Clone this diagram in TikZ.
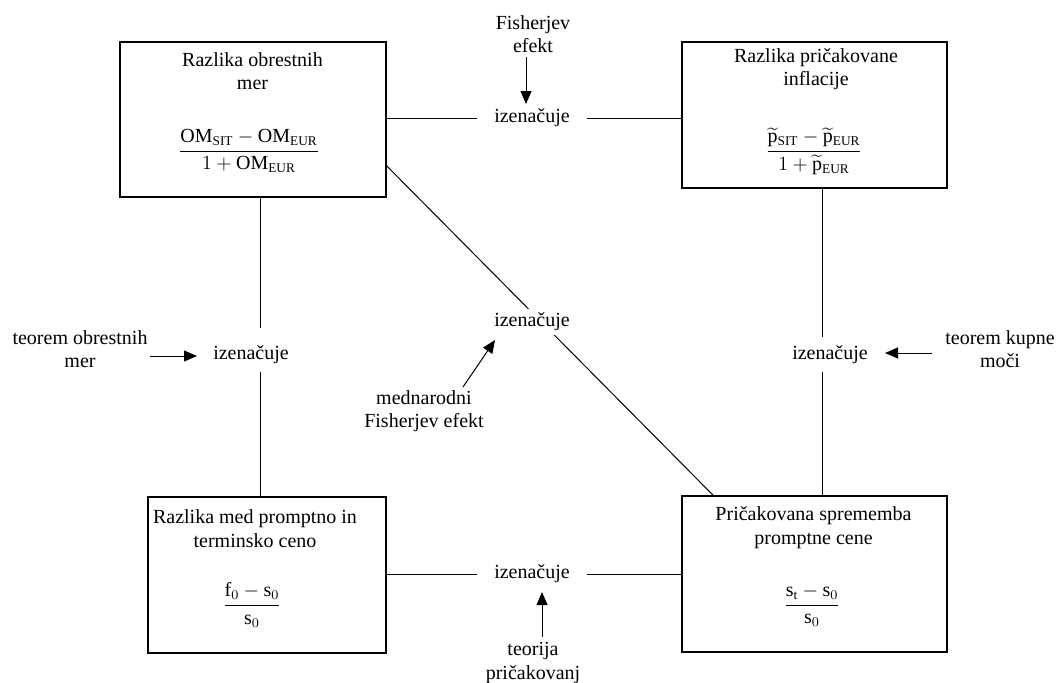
\documentclass[tikz,border=0pt]{standalone}
\usepackage{amsmath}
\usepackage{fontspec}
\setmainfont{Liberation Serif}
\usetikzlibrary{arrows.meta}
\begin{document}
\begin{tikzpicture}[x=0.6pt,y=-0.6pt,
  font=\fontsize{12}{14}\selectfont,
  box/.style={draw, line width=1pt, inner sep=0pt},
  conn/.style={line width=0.6pt},
  arr/.style={line width=0.6pt,-{Triangle[length=7.8pt,width=6.6pt]}},
  eqh/.style={inner xsep=10.2pt, inner ysep=2pt},
  txt/.style={align=center, inner sep=0pt}]
\useasboundingbox (0,0) rectangle (1058,682);

% boxes
\node[box, minimum width=159.6pt, minimum height=93pt] (TL) at (253,119.5) {};
\node[box, minimum width=159pt, minimum height=87.6pt] (TR) at (814.5,115) {};
\node[box, minimum width=142.8pt, minimum height=93.6pt] (BL) at (267,575) {};
\node[box, minimum width=159pt, minimum height=93.6pt] (BR) at (814.5,574) {};

% box titles
\node[txt] (tTL) at (252.5,71) {Razlika obrestnih\\mer};
\node[txt] (tTR) at (816,69) {Razlika pričakovane\\inflacije};
\node[txt] (tBL) at (255,528.5) {Razlika med promptno in\\terminsko ceno};
\node[txt] (tBR) at (813.5,527.5) {Pričakovana sprememba\\promptne cene};

% formulas
\node[txt] (fTL) at (249,151) {$\dfrac{\mathrm{OM}_{\mathrm{SIT}}-\mathrm{OM}_{\mathrm{EUR}}}{1+\mathrm{OM}_{\mathrm{EUR}}}$};
\node[txt] (fTR) at (814,151) {$\dfrac{\widetilde{\mathrm{p}}_{\mathrm{SIT}}-\widetilde{\mathrm{p}}_{\mathrm{EUR}}}{1+\widetilde{\mathrm{p}}_{\mathrm{EUR}}}$};
\node[txt] (fBL) at (252,605) {$\dfrac{\mathrm{f}_0-\mathrm{s}_0}{\mathrm{s}_0}$};
\node[txt] (fBR) at (812,606) {$\dfrac{\mathrm{s}_{\mathrm{t}}-\mathrm{s}_0}{\mathrm{s}_0}$};

% "izenacuje" labels
\node[eqh] (lT) at (532,118) {izenačuje};
\node[eqh] (lB) at (532,574) {izenačuje};
\node (lL) at (251,355) {izenačuje};
\node (lR) at (830,355) {izenačuje};

% horizontal connectors
\draw[conn] (TL.east |- lT) -- (lT.west);
\draw[conn] (lT.east) -- (TR.west |- lT);
\draw[conn] (BL.east |- lB) -- (lB.west);
\draw[conn] (lB.east) -- (BR.west |- lB);

% vertical connectors
\coordinate (gL1) at (260,328);
\coordinate (gL2) at (260,372);
\coordinate (gR1) at (822,337);
\coordinate (gR2) at (822,372);
\draw[conn] (TL.south -| gL1) -- (gL1);
\draw[conn] (gL2) -- (BL.north -| gL2);
\draw[conn] (TR.south -| gR1) -- (gR1);
\draw[conn] (gR2) -- (BR.north -| gR2);

% diagonal connector
\draw[conn] ([yshift=-27.9pt]TL.east) -- ([xshift=-60.9pt]BR.north);
\node[fill=white, inner sep=2.5pt] (lM) at (532,322) {izenačuje};

% side texts
\node[txt] (fish) at (533,34) {Fisherjev\\efekt};
\node[txt] (tob) at (80,349) {teorem obrestnih\\mer};
\node[txt] (tkm) at (1000,349) {teorem kupne\\moči};
\node[txt] (mfe) at (424,411) {mednarodni\\Fisherjev efekt};
\node[txt] (tpr) at (533,663) {teorija\\pričakovanj};

% arrows
\coordinate (aF1) at (526,57);   \coordinate (aF2) at (526,104);
\coordinate (aO1) at (150,356);  \coordinate (aO2) at (197,356);
\coordinate (aK1) at (932,353);  \coordinate (aK2) at (885,353);
\coordinate (aM1) at (463,387);  \coordinate (aM2) at (495,340);
\coordinate (aP1) at (542,637);  \coordinate (aP2) at (542,592);
\draw[arr] (aF1) -- (aF2);
\draw[arr] (aO1) -- (aO2);
\draw[arr] (aK1) -- (aK2);
\draw[arr] (aM1) -- (aM2);
\draw[arr] (aP1) -- (aP2);
\end{tikzpicture}
\end{document}
